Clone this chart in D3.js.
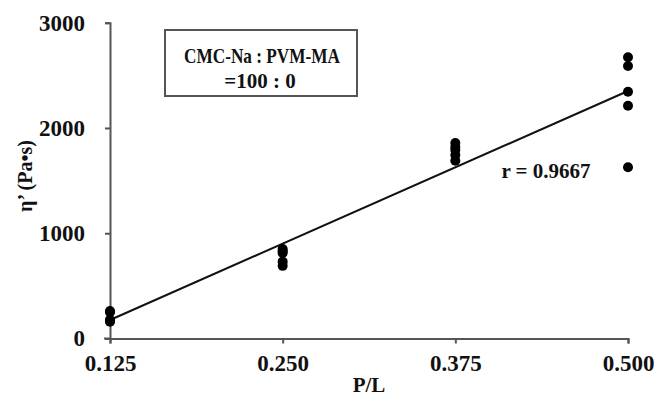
<!DOCTYPE html>
<html>
<head>
<meta charset="utf-8">
<script src="https://cdn.jsdelivr.net/npm/d3@7"></script>
<style>
  body { margin: 0; background: #fff; }
  text { font-family: "Liberation Serif", "Times New Roman", serif; font-weight: bold; fill: #111; }
</style>
</head>
<body>
<svg id="chart" width="667" height="403"></svg>
<script>
// P/L groups and measured η' values (Pa·s)
const xTicks = [0.125, 0.250, 0.375, 0.500];
const yTicks = [0, 1000, 2000, 3000];
const eta0125 = [262, 250, 178, 168, 160];
const eta0250 = [850, 830, 812, 730, 690];
const eta0375 = [1857, 1820, 1790, 1743, 1689];
const eta0500 = [2671, 2588, 2344, 2211, 1626];
const boxLines = ["CMC-Na : PVM-MA", "=100 : 0"];
const rLabel = "r = 0.9667";

const points = [];
[eta0125, eta0250, eta0375, eta0500].forEach((vals, i) => {
    vals.forEach(v => points.push({ x: xTicks[i], y: v }));
});

const svg = d3.select('#chart');
const margin = { left: 110, right: 39, top: 22.7, bottom: 64.5 };
const W = 667, H = 403;

const x = d3.scaleLinear().domain([0.125, 0.5]).range([margin.left, W - margin.right]);
const y = d3.scaleLinear().domain([0, 3000]).range([H - margin.bottom, margin.top]);

// x axis
const xAxis = svg.append('g')
    .attr('transform', `translate(0,${y(0)})`)
    .call(d3.axisBottom(x).tickValues(xTicks).tickFormat(d3.format('.3f')).tickSizeOuter(0).tickSize(5).tickPadding(11));

// y axis
const yAxis = svg.append('g')
    .attr('transform', `translate(${x(0.125)},0)`)
    .call(d3.axisLeft(y).tickValues(yTicks).tickFormat(d3.format('d')).tickSizeOuter(0).tickSize(5).tickPadding(20));

[xAxis, yAxis].forEach(g => {
    g.select('.domain').attr('stroke', '#555').attr('stroke-width', 2);
    g.selectAll('.tick line').attr('stroke', '#555').attr('stroke-width', 2);
    g.selectAll('.tick text').style('font-size', '23px').style('font-family', '"Liberation Serif", serif').style('font-weight', 'bold').attr('fill', '#111');
});
// extend x axis slightly left past the y axis, like the original
xAxis.append('line')
    .attr('x1', x(0.125) - 6).attr('x2', x(0.125))
    .attr('stroke', '#555').attr('stroke-width', 2);

// least squares fit
const mx = d3.mean(points, d => d.x), my = d3.mean(points, d => d.y);
const slope = d3.sum(points, d => (d.x - mx) * (d.y - my)) / d3.sum(points, d => (d.x - mx) ** 2);
const icpt = my - slope * mx;
const fit = [0.125, 0.5].map(v => ({ x: v, y: icpt + slope * v }));

svg.append('path')
    .datum(fit)
    .attr('d', d3.line().x(d => x(d.x)).y(d => y(d.y)))
    .attr('stroke', '#111').attr('stroke-width', 2).attr('fill', 'none');

svg.selectAll('circle.pt')
    .data(points)
    .enter()
    .append('circle')
    .attr('class', 'pt')
    .attr('cx', d => x(d.x))
    .attr('cy', d => y(d.y))
    .attr('r', 5)
    .attr('fill', '#000');

// annotation box
svg.append('rect')
    .attr('x', 165).attr('y', 30).attr('width', 192).attr('height', 66)
    .attr('fill', '#fff').attr('stroke', '#555').attr('stroke-width', 2);
svg.append('text')
    .attr('x', 184).attr('y', 63)
    .attr('textLength', 156)
    .attr('lengthAdjust', 'spacingAndGlyphs')
    .style('font-size', '21px')
    .text(boxLines[0]);
svg.append('text')
    .attr('x', 260).attr('y', 88)
    .attr('text-anchor', 'middle')
    .style('font-size', '21px')
    .text(boxLines[1]);

svg.append('text')
    .attr('x', 546).attr('y', 178)
    .attr('text-anchor', 'middle')
    .style('font-size', '21px')
    .text(rLabel);

// axis titles
svg.append('text')
    .attr('x', (x(0.125) + x(0.5)) / 2).attr('y', 392)
    .attr('text-anchor', 'middle')
    .style('font-size', '21px')
    .text('P/L');

svg.append('text')
    .attr('transform', 'translate(32,176) rotate(-90)')
    .attr('text-anchor', 'middle')
    .style('font-size', '20px')
    .text('η’ (Pa•s)');
</script>
</body>
</html>
